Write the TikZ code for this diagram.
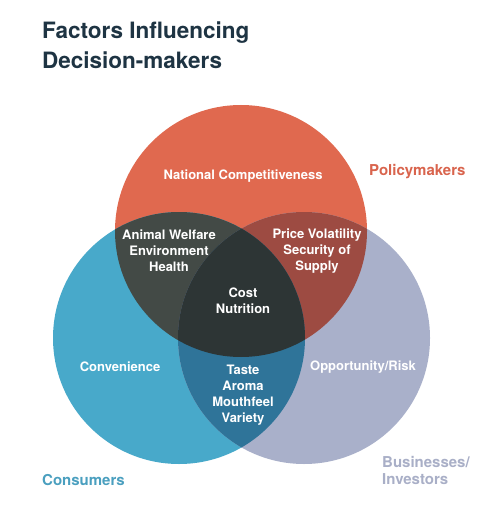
\documentclass[tikz,border=0pt]{standalone}
\usepackage{fontspec}
\setmainfont{TeX Gyre Heros}
\usepackage{tikz}
\definecolor{policyred}{HTML}{E0694F}
\definecolor{consumerblue}{HTML}{48A9CA}
\definecolor{businessgray}{HTML}{A9B0CA}
\definecolor{redblue}{HTML}{434A46}
\definecolor{redgray}{HTML}{9D4B42}
\definecolor{bluegray}{HTML}{2F7499}
\definecolor{allthree}{HTML}{2D3535}
\definecolor{titleink}{HTML}{1E3443}
\definecolor{policytext}{HTML}{D9644D}
\definecolor{consumertext}{HTML}{4A9FBF}
\definecolor{businesstext}{HTML}{A9AFC7}
\tikzstyle{factor}=[text=white, font=\fontsize{13}{16}\selectfont\bfseries, align=center, inner sep=0pt]
\tikzstyle{group}=[font=\fontsize{15}{17}\selectfont\bfseries, align=left, inner sep=0pt]
\tikzstyle{heading}=[text=titleink, font=\fontsize{22.5}{30}\selectfont\bfseries, align=left, inner sep=0pt]

\begin{document}
\begin{tikzpicture}[x=1pt, y=-1pt]
	\useasboundingbox (0,0) rectangle (500,529);
	\fill[white] (0,0) rectangle (500,529);
	% circles
	\fill[policyred] (241,231) circle [radius=126pt];
	\fill[consumerblue] (179,338) circle [radius=126pt];
	\fill[businessgray] (304,338) circle [radius=126pt];
	% overlaps
	\begin{scope}
		\clip (241,231) circle [radius=126pt];
		\fill[redblue] (179,338) circle [radius=126pt];
		\fill[redgray] (304,338) circle [radius=126pt];
	\end{scope}
	\begin{scope}
		\clip (179,338) circle [radius=126pt];
		\fill[bluegray] (304,338) circle [radius=126pt];
		\clip (241,231) circle [radius=126pt];
		\fill[allthree] (304,338) circle [radius=126pt];
	\end{scope}
	% title
	\node[heading, anchor=north west] (title) at (42,22) {Factors Influencing\\Decision-makers};
	% group labels
	\node[group, text=policytext, anchor=west] (policy) at (369,172) {Policymakers};
	\node[group, text=consumertext, anchor=west] (consumers) at (42,480) {Consumers};
	\node[group, text=businesstext, anchor=north west] (business) at (382,456) {Businesses/\\Investors};
	% factors
	\node[factor] (national) at (243,176) {National Competitiveness};
	\node[factor] (welfare) at (169,251) {Animal Welfare\\Environment\\Health};
	\node[factor] (price) at (317,251) {Price Volatility\\Security of\\Supply};
	\node[factor] (cost) at (243,301) {Cost\\Nutrition};
	\node[factor] (convenience) at (120,367) {Convenience};
	\node[factor] (opportunity) at (363,367) {Opportunity/Risk};
	\node[factor] (taste) at (243,395) {Taste\\Aroma\\Mouthfeel\\Variety};
\end{tikzpicture}
\end{document}
